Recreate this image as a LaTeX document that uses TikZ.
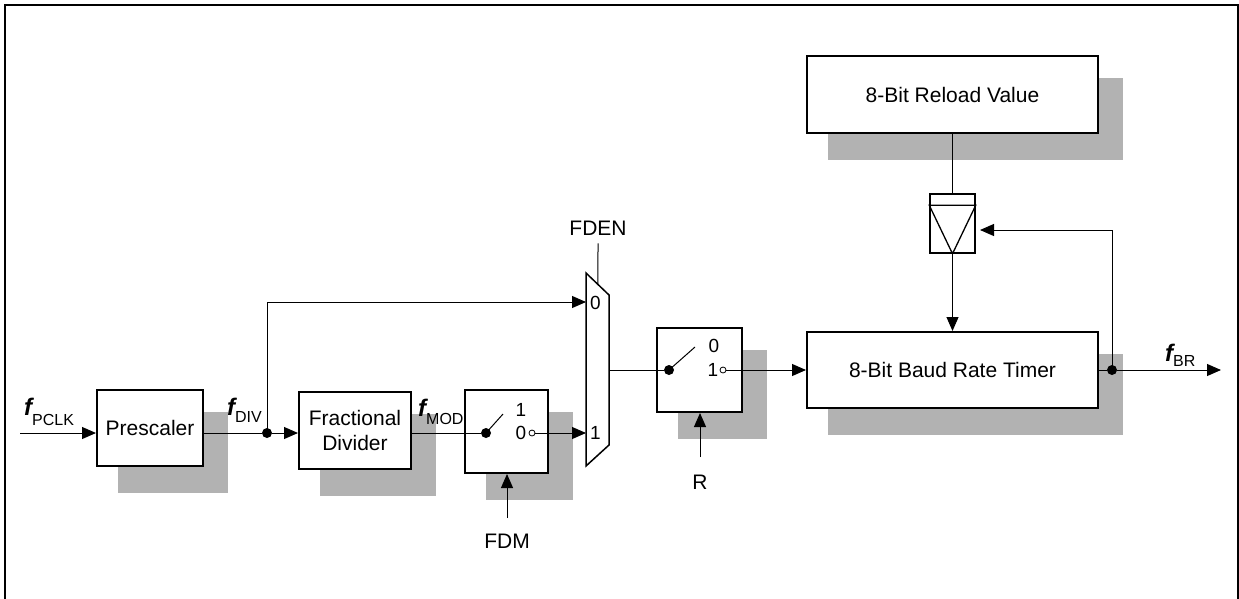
\documentclass[tikz,border=0pt]{standalone}
\usepackage{fontspec}
\setmainfont{Liberation Sans}
\usetikzlibrary{arrows.meta,backgrounds,calc}
\newcommand{\fsig}[2][8pt]{{\fontsize{24}{24}\selectfont\bfseries\itshape f}\raisebox{-#1}{\fontsize{16}{16}\selectfont #2}}
\tikzset{
 box/.style={draw, line width=2pt, fill=white, font=\fontsize{21}{25}\selectfont, align=center, inner sep=0pt},
 shade/.style={fill=black!30, draw=none},
 conn/.style={line width=1pt},
 arr/.style={conn, -{Triangle[length=14pt,width=12pt]}},
 dot/.style={circle, fill=black, inner sep=0pt, minimum size=10pt},
 odot/.style={circle, draw, line width=0.8pt, fill=white, inner sep=0pt, minimum size=6pt},
 lbl/.style={font=\fontsize{21}{25}\selectfont, inner sep=0pt},
 dig/.style={font=\fontsize{19}{22}\selectfont, inner sep=0pt},
 sig/.style={inner sep=0pt, anchor=base west},
}
\begin{document}
\begin{tikzpicture}[x=1pt,y=-1pt]
\useasboundingbox (0,0) rectangle (1239,598);
\draw[line width=2.5pt] (5,600) -- (5,5) -- (1238,5) -- (1238,600);

% blocks
\node[box, minimum width=106pt, minimum height=76pt] (pre) at (150,428) {Prescaler};
\node[box, minimum width=112pt, minimum height=77pt] (frac) at (355,430.5) {Fractional\\Divider};
\node[box, minimum width=83pt, minimum height=83pt] (sw1) at (506.5,431.5) {};
\node[box, minimum width=85pt, minimum height=84pt] (sw2) at (699.5,370) {};
\node[box, minimum width=291pt, minimum height=76pt] (tmr) at (952.5,370) {8-Bit Baud Rate Timer};
\node[box, minimum width=291pt, minimum height=77pt] (rel) at (952.5,94.5) {8-Bit Reload Value};

\begin{scope}[on background layer]
\foreach \n in {pre,frac,sw1,sw2,tmr,rel}
  \fill[shade] ([shift={(22,23)}]\n.north west) rectangle ([shift={(24,26)}]\n.south east);
\end{scope}

% multiplexer
\coordinate (m1) at (586,273);
\coordinate (m2) at (609,295);
\coordinate (m3) at (609,445);
\coordinate (m4) at (586,466);
\draw[line width=1.5pt, fill=white] (m1) -- (m2) -- (m3) -- (m4) -- cycle;
\coordinate (mi0) at (586,302);
\coordinate (mi1) at (586,433);
\coordinate (mo) at (609,370);
\node[dig, anchor=west] (mux0) at (590,303) {0};
\node[dig, anchor=west] (mux1) at (590,433) {1};
\coordinate (mtop) at ($(m1)!0.52!(m2)$);
\node[lbl] (fden) at (598,228) {FDEN};
\draw[conn] ($(fden.south)+(0,8)$) -- (mtop);

% input
\coordinate (pin) at (20,433);
\node[sig] (fpclk) at (24,415) {\fsig[10pt]{PCLK}};
\draw[arr] (pin) -- (pin -| pre.west);
\node[dot] (d1) at (267,433) {};
\node[sig] (fdiv) at (227,415) {\fsig[7pt]{DIV}};
\draw[conn] (pre.east |- d1) -- (d1);
\draw[arr] (d1) -- (d1 -| frac.west);
\draw[arr] (d1.center) |- (mi0);

% switch 1
\node[dot] (p1) at (486,433) {};
\coordinate (s1t) at (503,414);
\node[odot] (o1) at (532,433) {};
\node[dig] (s1a) at (521,410) {1};
\node[dig] (s1b) at (521,433) {0};
\node[sig] (fmod) at (418,416) {\fsig[8pt]{MOD}};
\draw[conn] (frac.east |- p1) -- (p1);
\draw[conn] (p1.center) -- (s1t);
\draw[arr] (o1) -- (mi1);
\node[lbl] (fdm) at (507,541) {FDM};
\coordinate (fdmt) at (507,518);
\draw[arr] (fdmt) -- (fdmt |- sw1.south);

% switch 2
\node[dot] (p2) at (669,370) {};
\coordinate (s2t) at (695,347);
\node[odot] (o2) at (723,370) {};
\node[dig] (s2a) at (714,346) {0};
\node[dig] (s2b) at (713,370) {1};
\draw[conn] (mo) -- (p2);
\draw[conn] (p2.center) -- (s2t);
\draw[arr] (o2) -- (o2 -| tmr.west);
\node[lbl] (rl) at (700,482) {R};
\coordinate (rt) at (700,457);
\draw[arr] (rt) -- (rt |- sw2.south);

% latch
\node[draw, line width=1.5pt, fill=white, minimum width=45pt, minimum height=59pt, inner sep=0pt] (latch) at (952.5,223.5) {};
\draw[line width=1.3pt, line join=miter] ($(latch.north west)+(0,12)$) -- ($(latch.north east)+(0,12)$) -- (latch.south) -- cycle;
\draw[conn] (rel.south) -- (latch.north);
\draw[arr] (latch.south) -- (tmr.north);

% output
\node[dot] (d2) at (1112,370) {};
\coordinate (out) at (1221,370);
\coordinate (fb) at (980,230);
\draw[conn] (tmr.east) -- (d2);
\draw[arr] (d2) -- (out);
\draw[arr] (d2.center) |- (fb);
\node[sig] (fbr) at (1165,361) {\fsig[5pt]{BR}};
\end{tikzpicture}
\end{document}
